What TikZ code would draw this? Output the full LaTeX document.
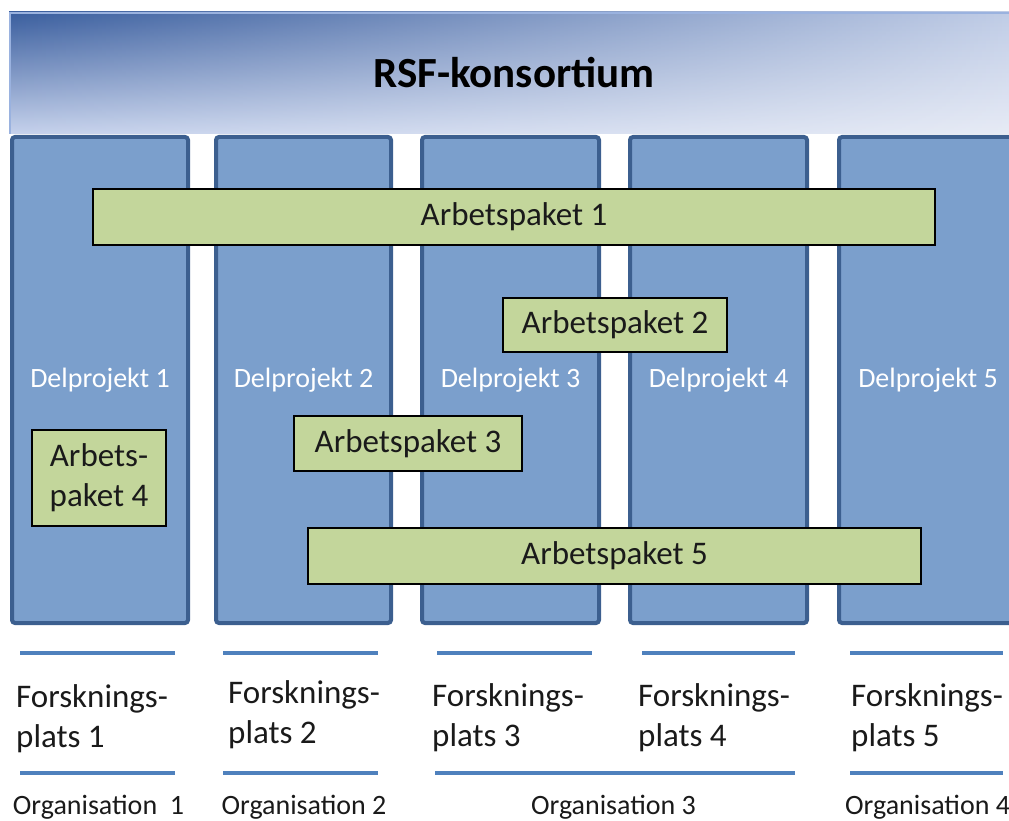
\documentclass[tikz,border=0pt]{standalone}
\usepackage{fontspec}
\usetikzlibrary{fadings}
\setmainfont{Carlito}
\definecolor{hTL}{HTML}{3A5E9E}
\definecolor{hBL}{HTML}{C6D2EC}
\definecolor{hTR}{HTML}{C3CFE8}
\definecolor{hBR}{HTML}{E8ECF6}
\definecolor{hedge}{HTML}{9AB2DF}
\definecolor{colfill}{HTML}{7B9FCC}
\definecolor{colborder}{HTML}{3C5F8F}
\definecolor{apgreen}{HTML}{C3D69B}
\definecolor{lineblue}{HTML}{4F81BD}
\definecolor{txt}{HTML}{1A1A1A}
\tikzfading[name=hdrfade, left color=transparent!100, right color=transparent!0]
\tikzset{
  dpbox/.style={draw=colborder, line width=4pt, fill=colfill, rounded corners=3pt,
    text=white, font=\fontsize{28}{32}\selectfont, inner sep=0pt},
  apbox/.style={draw=black, line width=2pt, fill=apgreen, text=txt,
    font=\fontsize{33}{40}\selectfont, inner sep=0pt, align=center},
  sepline/.style={draw=lineblue, line width=4pt},
  flabel/.style={anchor=base west, align=left, inner sep=0pt, text=txt,
    font=\fontsize{33}{40}\selectfont},
  olabel/.style={anchor=base, inner sep=0pt, text=txt, font=\fontsize{28}{34}\selectfont}
}
\begin{document}
\begin{tikzpicture}[x=1pt,y=-1pt]
\useasboundingbox (0,0) rectangle (1009,821);
\clip (0,0) rectangle (1009,821);
% header
\shade[top color=hTL, bottom color=hBL] (9,12) rectangle (1030,134);
\shade[top color=hTR, bottom color=hBR, path fading=hdrfade] (9,12) rectangle (1030,134);
\draw[hedge, line width=2pt] (10,134) -- (10,13) -- (1030,13);
\node[anchor=base, inner sep=0pt, text=black, font=\bfseries\fontsize{43}{50}\selectfont] (title) at (514,88) {RSF-konsortium};
% columns
\node[dpbox, minimum width=176pt, minimum height=486pt] (dp1) at (100,380) {Delprojekt 1};
\node[dpbox, minimum width=175pt, minimum height=486pt] (dp2) at (303.5,380) {Delprojekt 2};
\node[dpbox, minimum width=177pt, minimum height=486pt] (dp3) at (510.5,380) {Delprojekt 3};
\node[dpbox, minimum width=177pt, minimum height=486pt] (dp4) at (718.5,380) {Delprojekt 4};
\node[dpbox, minimum width=178pt, minimum height=486pt] (dp5) at (928,380) {Delprojekt 5};
% work packages
\node[apbox, minimum width=842pt, minimum height=56pt] (ap1) at (514,217) {Arbetspaket 1};
\node[apbox, minimum width=224pt, minimum height=54pt] (ap2) at (615,325) {Arbetspaket 2};
\node[apbox, minimum width=228pt, minimum height=55pt] (ap3) at (408,443.5) {Arbetspaket 3};
\node[apbox, minimum width=134pt, minimum height=96pt] (ap4) at (99,478) {Arbets-\\paket 4};
\node[apbox, minimum width=613pt, minimum height=56pt] (ap5) at (614.5,556) {Arbetspaket 5};
% separator lines
\draw[sepline] (20,653) -- (175,653);
\draw[sepline] (223,653) -- (378,653);
\draw[sepline] (437,653) -- (592,653);
\draw[sepline] (642,653) -- (795,653);
\draw[sepline] (850,653) -- (1003,653);
\draw[sepline] (20,773) -- (175,773);
\draw[sepline] (223,773) -- (378,773);
\draw[sepline] (435,773) -- (795,773);
\draw[sepline] (850,773) -- (1003,773);
% research sites
\node[flabel] (f1) at (16,747) {Forsknings-\\plats 1};
\node[flabel] (f2) at (228,743) {Forsknings-\\plats 2};
\node[flabel] (f3) at (432,746) {Forsknings-\\plats 3};
\node[flabel] (f4) at (638,746) {Forsknings-\\plats 4};
\node[flabel] (f5) at (851,746) {Forsknings-\\plats 5};
% organisations
\node[olabel] (o1) at (98.5,814) {Organisation\ \ 1};
\node[olabel] (o2) at (304,814) {Organisation 2};
\node[olabel] (o3) at (613.5,814) {Organisation 3};
\node[olabel, anchor=base west] (o4) at (845,814) {Organisation 4};
\end{tikzpicture}
\end{document}
